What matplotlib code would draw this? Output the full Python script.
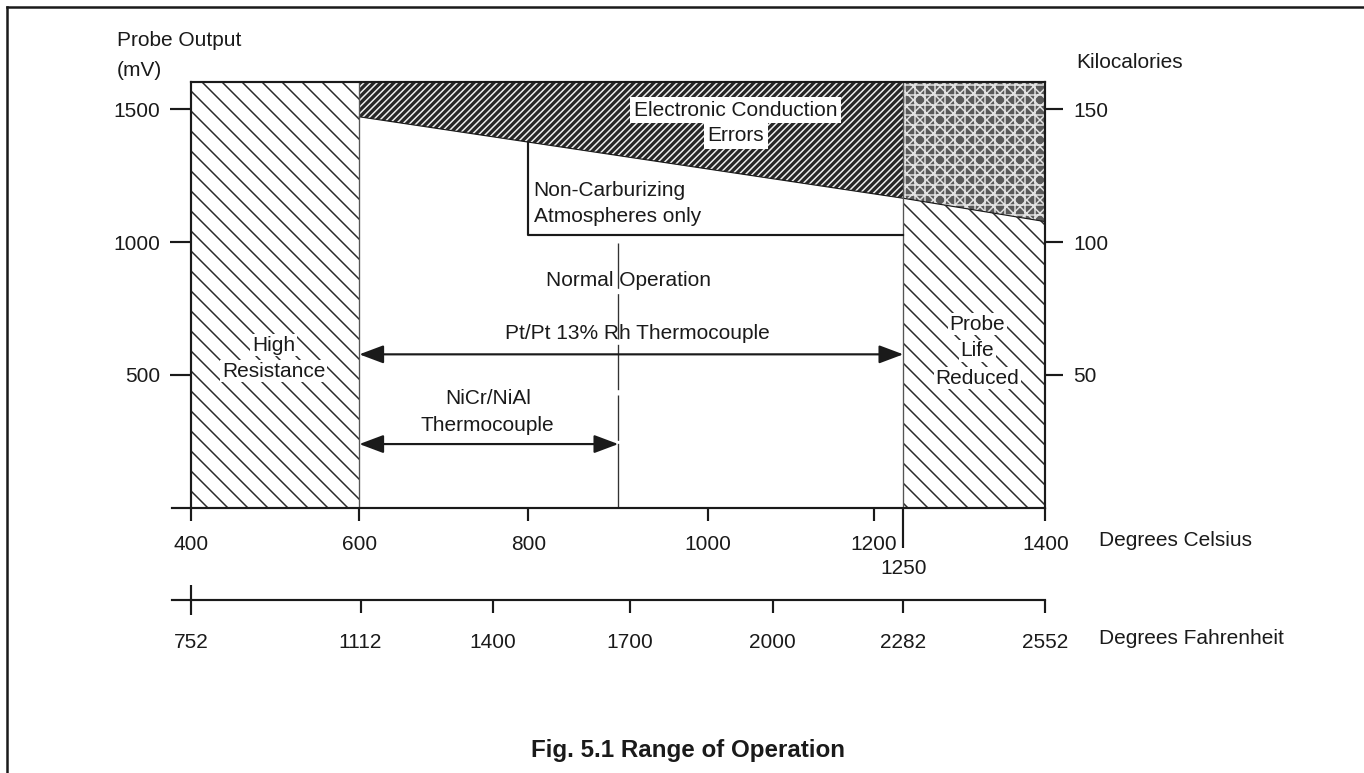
import numpy as np
import matplotlib
matplotlib.use("Agg")
import matplotlib.pyplot as plt
from matplotlib.lines import Line2D

plt.rcParams['font.family'] = ['Liberation Sans', 'DejaVu Sans']
plt.rcParams['font.size'] = 12.5
plt.rcParams['hatch.linewidth'] = 0.9
plt.rcParams['text.color'] = '#1a1a1a'

# --- data ---
celsius_ticks = [400, 600, 800, 1000, 1200, 1400]
celsius_extra = [1250]
fahrenheit_ticks = [1112, 1400, 1700, 2000, 2282, 2552]
fahrenheit_start = [752]
mv_ticks = [500, 1000, 1500]
kcal_ticks = [50, 100, 150]
mv_top = 1603

high_res = (400, 600)
life_red = (1250, 1400)
ec_temp = [600, 1250, 1400]        # lower edge of "Electronic Conduction Errors"
ec_mv = [1472, 1165, 1077]
nc_temp = [800, 800, 1250]         # Non-Carburizing bracket
nc_mv = [1375, 1026, 1026]
pt_range = (600, 1250)             # Pt/Pt 13% Rh
pt_mv = 577
nicr_range = (600, 900)            # NiCr/NiAl
nicr_mv = 239
normal_op = 900
normal_dash = (996, 239)

# drawn axis is not to scale: knots of the printed axes (pixels)
c_knots = [400, 600, 800, 1000, 1200, 1250, 1400]
c_pix = [191, 359.3, 528.3, 708.3, 874, 903.3, 1045.3]
f_knots = [752, 1112, 1400, 1700, 2000, 2282, 2552]
f_pix = [190.7, 360.3, 493, 630, 772.7, 903.3, 1045.3]

W, H, DPI = 1364, 773, 120
fig = plt.figure(figsize=(W / DPI, H / DPI), dpi=DPI)

def fx(p):
    return p / W

def fy(p):
    return (H - p) / H

ax = fig.add_axes([fx(191), fy(507.5), fx(1045.3) - fx(191), fy(82) - fy(507.5)])
ax.set_xscale('function', functions=(lambda v: np.interp(v, c_knots, c_pix),
                                     lambda p: np.interp(p, c_pix, c_knots)))
ax.set_xlim(400, 1400)
ax.set_ylim(0, mv_top)

ink = '#1a1a1a'

# zones
ax.fill_between(high_res, 0, mv_top, facecolor='white', edgecolor='#2a2a2a', hatch='\\\\', lw=0)
ax.fill_between(life_red, 0, [np.interp(v, ec_temp, ec_mv) for v in life_red],
                facecolor='white', edgecolor='#2a2a2a', hatch='\\\\', lw=0)
ax.fill_between(ec_temp[:2], ec_mv[:2], mv_top, facecolor='#262626', edgecolor='#eeeeee',
                hatch='//////', lw=0)
ax.fill_between(ec_temp[1:], ec_mv[1:], mv_top, facecolor='#5a5a5a', edgecolor='#e2e2e2',
                hatch='xxx++', lw=0)
ax.plot(ec_temp, ec_mv, color=ink, lw=0.7)
for v in (high_res[1], life_red[0]):
    ax.axvline(v, color='#555555', lw=0.8)

# Non-Carburizing bracket
ax.plot(nc_temp, nc_mv, color=ink, lw=1.3)

# Normal Operation line
ax.plot([normal_op, normal_op], normal_dash, color='#333333', lw=0.8, dashes=(34, 4))
ax.plot([normal_op, normal_op], [0, normal_dash[1]], color='#333333', lw=0.8)

# arrows
astyle = '<|-|>,head_length=0.4,head_width=0.15'
ax.annotate('', xy=(pt_range[1], pt_mv), xytext=(pt_range[0], pt_mv),
            arrowprops=dict(arrowstyle=astyle, mutation_scale=31, lw=1.3, color=ink,
                            shrinkA=0, shrinkB=0))
ax.annotate('', xy=(nicr_range[1], nicr_mv), xytext=(nicr_range[0], nicr_mv),
            arrowprops=dict(arrowstyle=astyle, mutation_scale=31, lw=1.3, color=ink,
                            shrinkA=0, shrinkB=0))

# labels inside the chart
wbox = dict(boxstyle='square,pad=0.18', facecolor='white', edgecolor='none')
ax.text(1033, 1497, 'Electronic Conduction', ha='center', va='center', bbox=wbox)
ax.text(1033, 1400, 'Errors', ha='center', va='center', bbox=wbox)
ax.text(806, 1193, 'Non-Carburizing', ha='left', va='center')
ax.text(806, 1095, 'Atmospheres only', ha='left', va='center')
ax.text(911, 857, 'Normal Operation', ha='center', va='center')
ax.text(921, 657, 'Pt/Pt 13% Rh Thermocouple', ha='center', va='center')
ax.text(752, 409, 'NiCr/NiAl', ha='center', va='center')
ax.text(752, 308, 'Thermocouple', ha='center', va='center')
sbox = dict(boxstyle='square,pad=0.08', facecolor='white', edgecolor='none')
ax.text(498, 612, 'High', ha='center', va='center', bbox=sbox)
ax.text(498, 514, 'Resistance', ha='center', va='center', bbox=sbox)
ax.text(1328, 691, 'Probe', ha='center', va='center', bbox=sbox)
ax.text(1328, 590, 'Life', ha='center', va='center', bbox=sbox)
ax.text(1328, 487, 'Reduced', ha='center', va='center', bbox=sbox)

# axes styling
for s in ax.spines.values():
    s.set_linewidth(1.3)
    s.set_color(ink)
    s.set_zorder(5)
ax.set_yticks(mv_ticks)
ax.tick_params(axis='y', length=12.6, width=1.3, pad=6, color=ink, labelcolor=ink)
ax.set_xticks(celsius_ticks)
ax.set_xticks(celsius_extra, labels=[str(v) for v in celsius_extra], minor=True)
ax.tick_params(axis='x', which='major', length=7.8, width=1.3, pad=9, color=ink, labelcolor=ink)
ax.tick_params(axis='x', which='minor', length=24, width=1.3, pad=6.6, color=ink, labelcolor=ink)
ax.plot([(172 - 191) / (1045.3 - 191), 0], [0, 0], transform=ax.transAxes,
        color=ink, lw=1.3, clip_on=False)

axk = ax.twinx()
axk.set_ylim(0, mv_top / 10)
axk.set_yticks(kcal_ticks)
axk.tick_params(axis='y', length=10.8, width=1.3, pad=6, color=ink, labelcolor=ink)
for s in axk.spines.values():
    s.set_visible(False)

# Fahrenheit axis
axf = fig.add_axes([fx(191), fy(600), fx(1045.3) - fx(191), 0.01])
axf.set_xscale('function', functions=(lambda v: np.interp(v, f_knots, f_pix),
                                      lambda p: np.interp(p, f_pix, f_knots)))
axf.set_xlim(752, 2552)
axf.patch.set_visible(False)
for k in ('top', 'left', 'right'):
    axf.spines[k].set_visible(False)
axf.spines['bottom'].set_linewidth(1.3)
axf.spines['bottom'].set_color(ink)
axf.set_yticks([])
axf.set_xticks(fahrenheit_ticks)
axf.set_xticks(fahrenheit_start, labels=[str(v) for v in fahrenheit_start], minor=True)
axf.tick_params(axis='x', which='major', length=7.8, width=1.3, pad=12, color=ink, labelcolor=ink)
axf.tick_params(axis='x', which='minor', direction='inout', length=18, width=1.3, pad=11,
                color=ink, labelcolor=ink)
axf.plot([(172 - 191) / (1045.3 - 191), 0], [0, 0], transform=axf.transAxes,
         color=ink, lw=1.3, clip_on=False)

# axis titles
fig.text(fx(117), fy(40), 'Probe Output', ha='left', va='center')
fig.text(fx(117), fy(70), '(mV)', ha='left', va='center')
fig.text(fx(1076), fy(62), 'Kilocalories', ha='left', va='center')
fig.text(fx(1099), fy(541), 'Degrees Celsius', ha='left', va='center')
fig.text(fx(1099), fy(639), 'Degrees Fahrenheit', ha='left', va='center')
fig.text(fx(688), fy(751), 'Fig. 5.1 Range of Operation', ha='center', va='center',
         fontweight='bold', fontsize=14.5)

# frame of the original page (left and top edges only visible)
fig.add_artist(Line2D([fx(6.5), fx(6.5)], [0, fy(6.5)], color=ink, lw=1.5))
fig.add_artist(Line2D([fx(6.5), 1], [fy(6.5), fy(6.5)], color=ink, lw=1.5))

fig.savefig('out.png', dpi=DPI)
